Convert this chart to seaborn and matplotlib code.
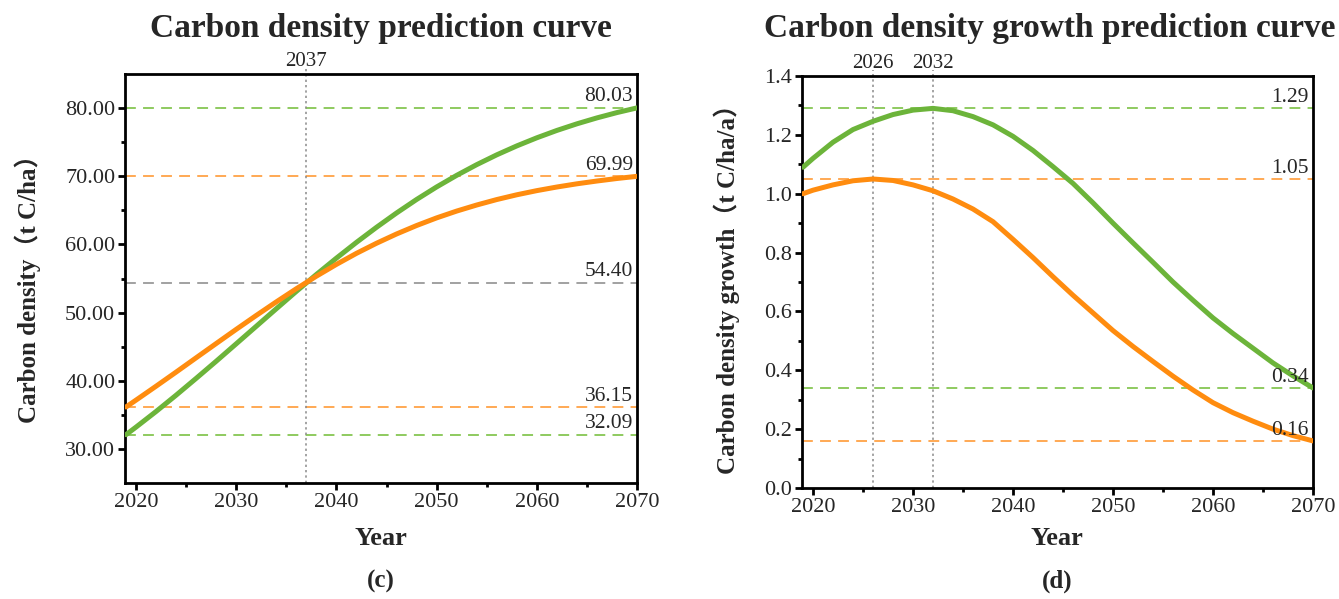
import matplotlib
matplotlib.use("Agg")
import matplotlib.pyplot as plt
import seaborn as sns
import pandas as pd

# ---------------- data ----------------
years = [2019, 2020, 2022, 2024, 2026, 2028, 2030, 2032, 2034, 2036, 2038,
         2040, 2042, 2044, 2046, 2048, 2050, 2052, 2054, 2056, 2058, 2060,
         2062, 2064, 2066, 2068, 2070]

density_green = [32.09, 33.20, 35.49, 37.88, 40.35, 42.86, 45.42, 47.99, 50.56,
                 53.11, 55.59, 57.99, 60.30, 62.51, 64.61, 66.59, 68.43, 70.13,
                 71.70, 73.14, 74.45, 75.64, 76.72, 77.69, 78.56, 79.34, 80.03]
density_orange = [36.15, 37.16, 39.20, 41.27, 43.37, 45.46, 47.54, 49.58, 51.57,
                  53.50, 55.34, 57.07, 58.69, 60.17, 61.53, 62.77, 63.89, 64.89,
                  65.78, 66.58, 67.28, 67.89, 68.42, 68.89, 69.30, 69.67, 69.99]

growth_green = [1.090, 1.120, 1.175, 1.218, 1.246, 1.269, 1.284, 1.290, 1.282,
                1.262, 1.234, 1.195, 1.147, 1.092, 1.035, 0.969, 0.900, 0.833,
                0.767, 0.700, 0.638, 0.578, 0.525, 0.475, 0.425, 0.381, 0.340]
growth_orange = [1.000, 1.012, 1.030, 1.044, 1.050, 1.045, 1.030, 1.010, 0.982,
                 0.948, 0.905, 0.845, 0.783, 0.718, 0.655, 0.595, 0.535, 0.481,
                 0.430, 0.380, 0.333, 0.290, 0.256, 0.227, 0.200, 0.178, 0.160]

left_hlines = [80.03, 69.99, 54.40, 36.15, 32.09]
left_hline_kind = ["green", "orange", "gray", "orange", "green"]
left_vlines = [2037]

right_hlines = [1.29, 1.05, 0.34, 0.16]
right_hline_kind = ["green", "orange", "green", "orange"]
right_vlines = [2026, 2032]

left_yticks = [30, 40, 50, 60, 70, 80]
right_yticks = [0.0, 0.2, 0.4, 0.6, 0.8, 1.0, 1.2, 1.4]
xticks = [2020, 2030, 2040, 2050, 2060, 2070]

titles = ["Carbon density prediction curve", "Carbon density growth prediction curve"]
ylabels = ["Carbon density（t C/ha）", "Carbon density growth（t C/ha/a）"]
xlabel = "Year"
panel_tags = ["(c)", "(d)"]

# ---------------- style ----------------
sns.set_style("ticks")
SERIF = ["Liberation Serif", "Noto Sans CJK SC", "DejaVu Serif"]
plt.rcParams["font.family"] = SERIF

C_GREEN = "#6cb43a"
C_ORANGE = "#ff8c0f"
D_GREEN = "#86c653"
D_ORANGE = "#ffa347"
D_GRAY = "#9a9a9a"
dash_col = {"green": D_GREEN, "orange": D_ORANGE, "gray": D_GRAY}

W, H = 1339, 599
fig = plt.figure(figsize=(W / 100, H / 100), dpi=100)


def fig_rect(x0, y0, x1, y1):
    return [x0 / W, 1 - y1 / H, (x1 - x0) / W, (y1 - y0) / H]


axL = fig.add_axes(fig_rect(125, 74, 637, 483))
axR = fig.add_axes(fig_rect(802, 76, 1313, 488))

dfL = pd.DataFrame({"Year": years * 2,
                    "value": density_green + density_orange,
                    "series": ["g"] * len(years) + ["o"] * len(years)})
dfR = pd.DataFrame({"Year": years * 2,
                    "value": growth_green + growth_orange,
                    "series": ["g"] * len(years) + ["o"] * len(years)})

for ax, df in ((axL, dfL), (axR, dfR)):
    sns.lineplot(data=df, x="Year", y="value", hue="series",
                 palette={"g": C_GREEN, "o": C_ORANGE}, lw=3.6,
                 legend=False, ax=ax, zorder=5)

axL.set_xlim(2018.9, 2070)
axL.set_ylim(25, 85)
axR.set_xlim(2018.9, 2070)
axR.set_ylim(0, 1.4)

# dashed reference lines + value labels
for ax, vals, kinds in ((axL, left_hlines, left_hline_kind),
                        (axR, right_hlines, right_hline_kind)):
    for val, kind in zip(vals, kinds):
        ax.axhline(val, color=dash_col[kind], lw=1.3, ls=(0, (6, 4)), zorder=2)
        ax.annotate(f"{val:.2f}", xy=(1, val), xycoords=("axes fraction", "data"),
                    xytext=(-3, 1.0), textcoords="offset points",
                    ha="right", va="bottom", fontsize=15.5, zorder=6)

for ax, vls in ((axL, left_vlines), (axR, right_vlines)):
    for v in vls:
        ax.axvline(v, ymin=0, ymax=1.015, color="#8a8a8a", lw=1.1,
                   ls=(0, (1.5, 2)), clip_on=False, zorder=2)
        ax.annotate(str(v), xy=(v, 1), xycoords=("data", "axes fraction"),
                    xytext=(0, 2.5), textcoords="offset points",
                    ha="center", va="bottom", fontsize=15)

# axes cosmetics
for ax in (axL, axR):
    ax.set_xticks(xticks)
    ax.set_xticks([2025, 2035, 2045, 2055, 2065], minor=True)
    ax.set_xlabel("")
    ax.set_ylabel("")
    for s in ax.spines.values():
        s.set_linewidth(2.0)
        s.set_color("black")
    ax.tick_params(axis="both", which="major", direction="out", length=5,
                   width=2.0, labelsize=16, pad=2, color="black")
    ax.tick_params(axis="both", which="minor", direction="out", length=3,
                   width=2.0, color="black")
    ax.tick_params(top=False, right=False, which="both")
    ax.set_facecolor("white")

axL.set_yticks(left_yticks)
axL.set_yticks([35, 45, 55, 65, 75], minor=True)
axL.set_yticklabels([f"{v:.2f}" for v in left_yticks])
axR.set_yticks(right_yticks)
axR.set_yticks([0.1, 0.3, 0.5, 0.7, 0.9, 1.1, 1.3], minor=True)
axR.set_yticklabels([f"{v:.1f}" for v in right_yticks])


def ftext(x, y, s, **kw):
    fig.text(x / W, 1 - y / H, s, **kw)


ftext(381, 37, titles[0], ha="center", va="baseline", fontsize=24, fontweight="bold")
ftext(1335, 37, titles[1], ha="right", va="baseline", fontsize=24, fontweight="bold")
ftext(381, 545, xlabel, ha="center", va="baseline", fontsize=19, fontweight="bold")
ftext(1057, 545, xlabel, ha="center", va="baseline", fontsize=19, fontweight="bold")
ftext(381, 588, panel_tags[0], ha="center", va="baseline", fontsize=18, fontweight="bold")
ftext(1057, 588, panel_tags[1], ha="center", va="baseline", fontsize=18, fontweight="bold")
ftext(28, 283, ylabels[0], ha="center", va="center", rotation=90, fontsize=18,
      fontweight="bold")
ftext(727, 283, ylabels[1], ha="center", va="center", rotation=90, fontsize=18,
      fontweight="bold")

fig.savefig("out.png", dpi=100, facecolor="white")
